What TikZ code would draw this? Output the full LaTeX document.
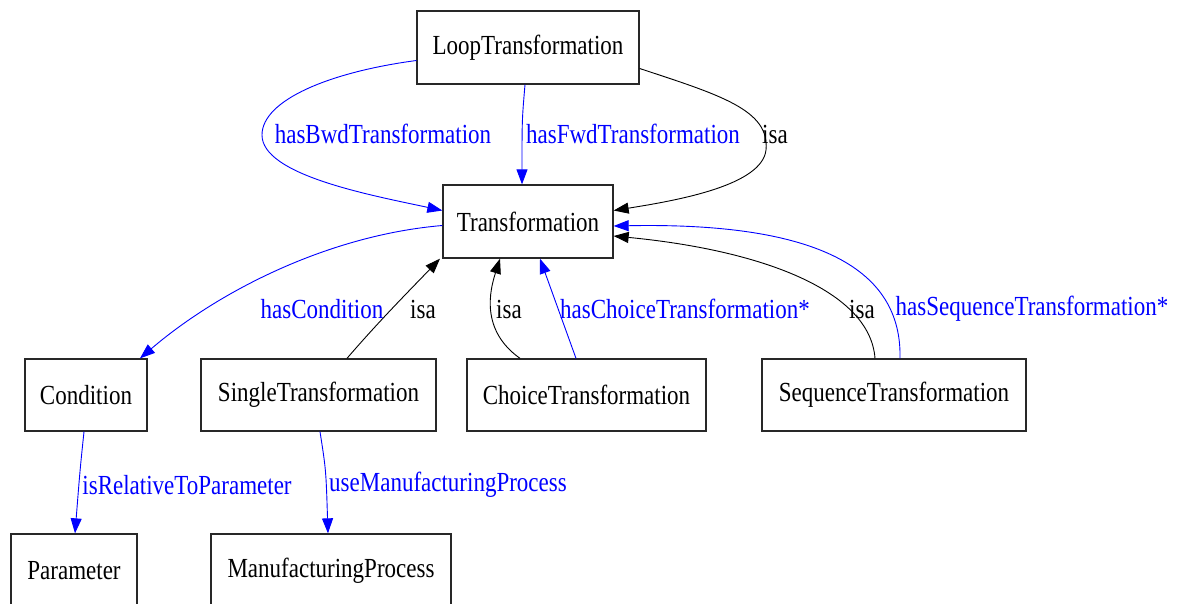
\documentclass[tikz,border=0pt]{standalone}
\usepackage{fontspec}
\usepackage{graphicx}
\setmainfont{Liberation Serif}
\usetikzlibrary{arrows.meta}
\newcommand\vtxt[1]{\scalebox{1}[1.2]{#1}}
\definecolor{boxline}{RGB}{40,40,40}
\begin{document}
\begin{tikzpicture}[x=1pt,y=-1pt,
  box/.style={draw=boxline,line width=1.3pt,fill=white,inner sep=0pt,minimum height=73pt,font=\fontsize{23}{25}\selectfont},
  lbl/.style={inner sep=0pt,font=\fontsize{23}{25}\selectfont},
  blbl/.style={lbl,text=blue},
  rel/.style={draw=blue,line width=0.9pt,-{Triangle[length=15pt,width=11pt]}},
  isa/.style={draw=black,line width=0.9pt,-{Triangle[length=15pt,width=11pt]}}]
\useasboundingbox[fill=white] (0,0) rectangle (1179,603);
\node[box,minimum width=222pt] (L) at (528,47.5) {\vtxt{LoopTransformation}};
\node[box,minimum width=170pt] (T) at (528,221.5) {\vtxt{Transformation}};
\node[box,minimum width=122pt,minimum height=72pt] (C) at (86,395) {\vtxt{Condition}};
\node[box,minimum width=235pt,minimum height=72pt] (S) at (318.5,395) {\vtxt{SingleTransformation}};
\node[box,minimum width=239pt,minimum height=72pt] (Ch) at (586.5,395) {\vtxt{ChoiceTransformation}};
\node[box,minimum width=264pt,minimum height=72pt] (Sq) at (894,395) {\vtxt{SequenceTransformation}};
\node[box,minimum width=126pt] (P) at (74,570.5) {\vtxt{Parameter}};
\node[box,minimum width=240pt] (M) at (331,570.5) {\vtxt{ManufacturingProcess}};
% edges
\draw[rel] ([yshift=-13pt]L.west) .. controls (330,72) and (262,100) .. (262,135) .. controls (262,175) and (370,195) .. ([yshift=11pt]T.west);
\draw[rel] ([xshift=-3pt]L.south) .. controls (522,120) .. ([xshift=-6pt]T.north);
\draw[isa] ([yshift=-21pt]L.east) .. controls (720,95) and (770,110) .. (766,150) .. controls (762,185) and (680,200) .. ([yshift=11pt]T.east);
\draw[rel] ([yshift=-4pt]T.west) .. controls (330,235) and (220,290) .. ([xshift=54pt]C.north);
\draw[isa] ([xshift=28.5pt]S.north) .. controls (380,320) and (410,290) .. ([xshift=-88pt]T.south);
\draw[isa] ([xshift=-66.5pt]Ch.north) .. controls (480,330) and (490,290) .. ([xshift=-28pt]T.south);
\draw[rel] ([xshift=-10.5pt]Ch.north) -- ([xshift=12pt]T.south);
\draw[isa] ([xshift=-19pt]Sq.north) .. controls (870,290) and (760,250) .. ([yshift=-14.5pt]T.east);
\draw[rel] ([xshift=6pt]Sq.north) .. controls (902,270) and (820,222) .. ([yshift=-4.5pt]T.east);
\draw[rel] ([xshift=-2pt]C.south) .. controls (80,470) .. ([xshift=1pt]P.north);
\draw[rel] ([xshift=1.5pt]S.south) .. controls (326,470) .. ([xshift=-3pt]M.north);
% labels
\node[blbl] (l1) at (383,134) {\vtxt{hasBwdTransformation}};
\node[blbl] (l2) at (633,134) {\vtxt{hasFwdTransformation}};
\node[lbl] (l3) at (775,134) {\vtxt{isa}};
\node[blbl] (l4) at (322,309) {\vtxt{hasCondition}};
\node[lbl] (l5) at (423,309) {\vtxt{isa}};
\node[lbl] (l6) at (509,309) {\vtxt{isa}};
\node[blbl] (l7) at (685,309) {\vtxt{hasChoiceTransformation*}};
\node[lbl] (l8) at (862,309) {\vtxt{isa}};
\node[blbl] (l9) at (1032,309) {\vtxt{hasSequenceTransformation*}};
\node[blbl] (l10) at (187,485) {\vtxt{isRelativeToParameter}};
\node[blbl] (l11) at (448,485) {\vtxt{useManufacturingProcess}};
\end{tikzpicture}
\end{document}
